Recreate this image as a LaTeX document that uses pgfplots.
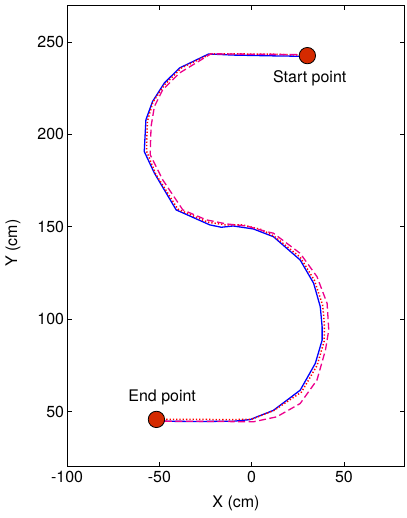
\documentclass[border=0pt]{standalone}
\usepackage{pgfplots}
\pgfplotsset{compat=1.18}
\usepackage{fontspec}
\setmainfont{TeX Gyre Heros}

\definecolor{markred}{RGB}{212,42,0}

\begin{document}
\begin{tikzpicture}
\begin{axis}[
  name=ax,
  scale only axis,
  width=337bp, height=461bp,
  xmin=-100, xmax=83, ymin=20, ymax=270,
  xtick={-100,-50,0,50}, ytick={50,100,150,200,250},
  tick align=inside,
  major tick length=5bp,
  tick style={black, line width=0.7pt},
  axis line style={black, line width=0.9pt},
  /pgf/number format/assume math mode=true,
  ticklabel style={font=\fontsize{16}{19}\selectfont},
  label style={font=\fontsize{16}{19}\selectfont},
  yticklabel style={xshift=0.5bp},
  xticklabel style={yshift=-1bp},
  xlabel={X (cm)}, ylabel={Y (cm)},
  xlabel style={yshift=-6bp},
  ylabel style={yshift=10bp, xshift=-7bp},
  clip=false,
]
% measured path
\addplot[blue, line width=1.3pt] coordinates {
  (30.2,242.2) (10,242.5) (-10,242.9) (-23.3,243.5) (-39.1,235.9) (-47.3,227.8)
  (-53.7,217.8) (-57.3,207.9) (-58.2,190.7) (-52.7,179.0) (-40.9,159.1)
  (-22.7,151.0) (-16.4,149.7) (-10.0,150.4) (0.9,148.8) (11.8,144.6)
  (26.3,132.0) (33.6,119.4) (37.2,106.7) (38.2,95.9) (38.2,88.6)
  (34.5,76.0) (26.3,61.5) (11.8,50.6) (-0.9,45.6) (-10.0,44.7)
  (-30,44.6) (-51.6,44.7)
};
% reference path
\addplot[red, line width=1.5pt, dash pattern=on 1.3pt off 2pt] coordinates {
  (30.2,242.8) (10,243.4) (-22,243.6) (-38,236) (-47,227) (-53.5,217.5)
  (-56.5,207) (-57,191) (-52,178.5) (-40,159.5) (-24,152.5) (-14,151)
  (-5,151) (5,148.5) (12,145) (26.3,133.5) (34,121) (38.5,107.5)
  (39.5,96) (39.3,88) (35.5,75) (27,60.5) (12,50.5) (0,45.8)
  (-10,45.6) (-30,45.7) (-51.6,45.7)
};
% estimated path
\addplot[magenta, line width=1.3pt, dash pattern=on 7pt off 3.5pt] coordinates {
  (30.2,243.2) (5,243.3) (-22,243.6) (-39.1,233.2) (-48.2,224.1) (-52.7,215.1)
  (-54.5,204.3) (-55,189.0) (-48.2,175.4) (-37.3,159.1) (-24.5,153.7)
  (-13.6,151.5) (-2.7,150.4) (8.2,147.3) (11.8,146.5) (26.3,135.6)
  (35.4,123.0) (40.9,108.5) (41.8,94.1) (40.0,83.2) (35.4,67.0)
  (26.3,54.3) (13.6,47.1) (0.9,44.4) (-20,44.6) (-51.6,44.8)
};
% start and end markers
\addplot[only marks, mark=*, mark size=8.2pt,
  mark options={fill=markred, draw=black, line width=0.8pt}] coordinates {
  (30.2,242.6) (-51.6,45.7)
};
\node[font=\fontsize{16}{19}\selectfont] at (axis cs:31.5,230.5) {Start point};
\node[font=\fontsize{16}{19}\selectfont] at (axis cs:-48.5,57.5) {End point};
\end{axis}
\pgfresetboundingbox
\path ([shift={(-67bp,-51bp)}]ax.south west) rectangle ([shift={(2bp,5bp)}]ax.north east);
\end{tikzpicture}
\end{document}
